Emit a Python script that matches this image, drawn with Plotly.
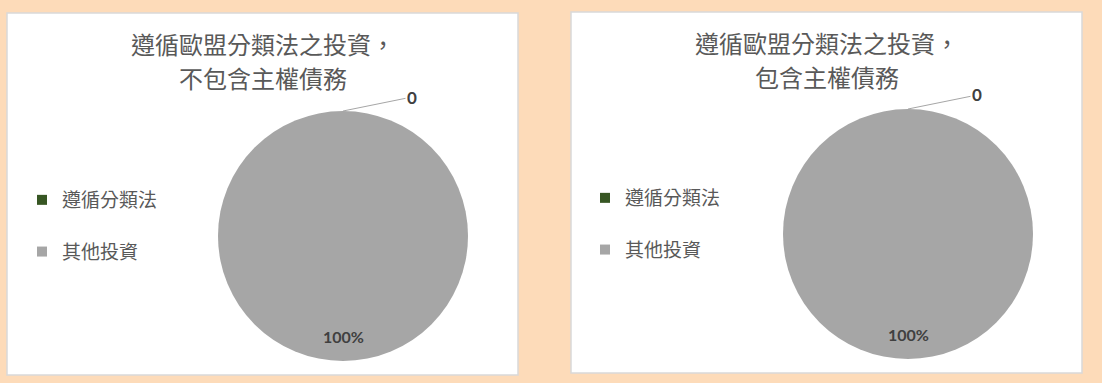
import plotly.graph_objects as go

# data
categories = ["遵循分類法", "其他投資"]
colors = ["#375623", "#A6A6A6"]
title_lines = [["遵循歐盟分類法之投資，", "不包含主權債務"], ["遵循歐盟分類法之投資，", "包含主權債務"]]
values_excl = [0, 100]
values_incl = [0, 100]

W, H = 1102, 383
BG = "#FDDBB9"
CJK = "Noto Sans CJK TC"

# panel boxes and pie boxes in pixels (left, top, right, bottom)
panels = [(7, 13, 518, 375), (571, 12, 1082, 373)]
pies = [(218, 111, 468, 361), (783, 109, 1033, 359)]
legend_left = [22, 585]


def px(x):
    return x / W


def py(y):
    return 1 - y / H


fig = go.Figure()

for i, (vals, box) in enumerate(zip([values_excl, values_incl], pies)):
    fig.add_trace(go.Pie(
        labels=categories, values=vals, sort=False, direction="clockwise",
        rotation=0, marker=dict(colors=colors, line=dict(width=0)),
        textinfo="none", hoverinfo="label+value", showlegend=False,
        domain=dict(x=[px(box[0]), px(box[2])], y=[py(box[3]), py(box[1])]),
    ))

# legend entries (square markers)
for i in range(2):
    for cat, col in zip(categories, colors):
        fig.add_trace(go.Scatter(
            x=[None], y=[None], mode="markers", name=cat,
            marker=dict(symbol="square", size=10, color=col),
            legend="legend" if i == 0 else "legend2",
            legendgroup=f"{i}-{cat}",
        ))

shapes = []
annotations = []
for i, (p, box, vals, lines) in enumerate(zip(panels, pies, [values_excl, values_incl], title_lines)):
    shapes.append(dict(type="rect", xref="paper", yref="paper",
                       x0=px(p[0]), x1=px(p[2]), y0=py(p[3]), y1=py(p[1]),
                       fillcolor="white", line=dict(color="#D9D9D9", width=1.5),
                       layer="below"))
    for j, line in enumerate(lines):
        annotations.append(dict(text=line, x=px((p[0] + p[2]) / 2), y=py(p[1] + 30 + 34 * j),
                                xref="paper", yref="paper", xanchor="center", yanchor="middle",
                                showarrow=False, font=dict(family=CJK, size=24, color="#595959")))
    cx = (box[0] + box[2]) / 2
    cy = (box[1] + box[3]) / 2
    r = (box[2] - box[0]) / 2
    total = sum(vals)
    # zero slice sits at the top: label with leader line
    annotations.append(dict(text=f"<b>{vals[0]}</b>", x=px(cx), y=py(cy - r),
                            xref="paper", yref="paper", showarrow=True, arrowhead=0,
                            arrowwidth=1, arrowcolor="#A6A6A6", ax=69, ay=-14,
                            font=dict(family="Lato", size=17, color="#404040")))
    # big slice: mid-angle at the bottom
    annotations.append(dict(text=f"<b>{vals[1] / total * 100:.0f}%</b>", x=px(cx), y=py(cy + 0.8 * r),
                            xref="paper", yref="paper", xanchor="center", yanchor="middle",
                            showarrow=False, font=dict(family="Lato", size=16, color="#404040")))

legend_style = dict(
    bgcolor="rgba(0,0,0,0)", font=dict(family=CJK, size=19, color="#595959"),
    yanchor="top", xanchor="left", tracegroupgap=24, itemclick=False,
)

fig.update_layout(
    width=W, height=H, margin=dict(l=0, r=0, t=0, b=0),
    paper_bgcolor=BG, plot_bgcolor=BG,
    xaxis=dict(visible=False), yaxis=dict(visible=False),
    shapes=shapes, annotations=annotations,
    legend=dict(x=px(legend_left[0]), y=py(181), **legend_style),
    legend2=dict(x=px(legend_left[1]), y=py(179), **legend_style),
)

# drop the browser's default body margin so the figure fills the window
fig.write_html("out.html", config={"displayModeBar": False},
               post_script="document.body.style.margin='0';")
